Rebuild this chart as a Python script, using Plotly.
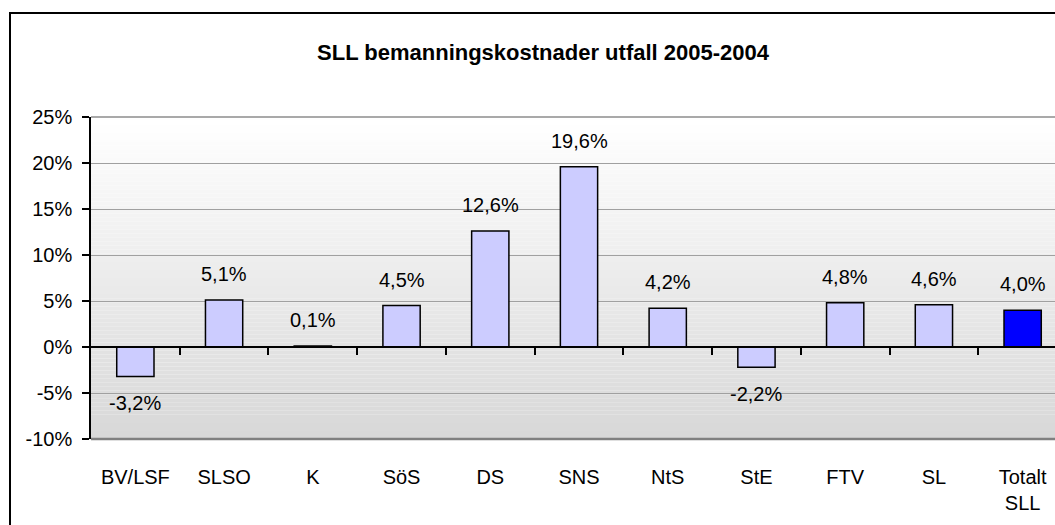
import plotly.graph_objects as go

categories = ["BV/LSF", "SLSO", "K", "SöS", "DS", "SNS", "NtS", "StE", "FTV", "SL", "Totalt<br>SLL"]
values = [-3.2, 5.1, 0.1, 4.5, 12.6, 19.6, 4.2, -2.2, 4.8, 4.6, 4.0]
labels = ["-3,2%", "5,1%", "0,1%", "4,5%", "12,6%", "19,6%", "4,2%", "-2,2%", "4,8%", "4,6%", "4,0%"]
y_ticks = [-10, -5, 0, 5, 10, 15, 20, 25]
y_ticktext = ["-10%", "-5%", "0%", "5%", "10%", "15%", "20%", "25%"]
title_text = "SLL bemanningskostnader utfall 2005-2004"

FONT = "Liberation Sans, Arial, sans-serif"
bar_colors = ["#CCCCFF"] * (len(categories) - 1) + ["#0000FF"]

fig = go.Figure()
fig.add_trace(go.Bar(
    x=categories, y=values, marker=dict(color=bar_colors, line=dict(color="black", width=1.5)),
    width=0.42, showlegend=False, hoverinfo="skip",
))

# data labels
for c, v, t in zip(categories, values, labels):
    fig.add_annotation(x=c, y=v, text=t, showarrow=False,
                       yanchor="bottom" if v >= 0 else "top",
                       yshift=13 if v >= 0 else -14,
                       font=dict(family=FONT, size=20, color="black"))

# gradient plot background
n = 80
for i in range(n):
    f = i / (n - 1)
    g = int(round(255 - (255 - 216) * f))
    fig.add_shape(type="rect", xref="x domain", yref="y domain",
                  x0=0, x1=1, y0=1 - (i + 1) / n, y1=1 - i / n,
                  fillcolor=f"rgb({g},{g},{g})", line=dict(width=0), layer="below")

# plot area border top/bottom
fig.add_shape(type="line", xref="x domain", yref="y domain", x0=0, x1=1, y0=1, y1=1,
              line=dict(color="#8c8c8c", width=1.5))
fig.add_shape(type="line", xref="x domain", yref="y domain", x0=0, x1=1, y0=0, y1=0,
              line=dict(color="#808080", width=2.5))

# outer chart frame (cropped on right/bottom)
fig.add_shape(type="rect", xref="paper", yref="paper",
              x0=(10 - 91) / 964, x1=1.2, y0=-0.6, y1=(439 - 13) / 322,
              line=dict(color="black", width=2), fillcolor="rgba(0,0,0,0)")

n_cat = len(categories)
x_range = [-0.5, n_cat - 0.5 - 12 / 88.7]

fig.update_layout(
    width=1055, height=525,
    margin=dict(l=91, r=0, t=117, b=86, autoexpand=False),
    paper_bgcolor="white", plot_bgcolor="rgba(0,0,0,0)",
    title=dict(text=f"<b>{title_text}</b>", x=543 / 1055, xref="container", xanchor="center",
               y=1 - 52 / 525, yref="container", yanchor="middle",
               font=dict(family=FONT, size=22, color="black")),
    font=dict(family=FONT, size=20, color="black"),
    xaxis=dict(type="category", range=x_range, showgrid=False, showline=False, ticks="",
               tickfont=dict(family=FONT, size=20, color="black"), ticklabelstandoff=24,
               zeroline=False, automargin=False),
    xaxis2=dict(overlaying="x", anchor="free", position=10 / 35, range=x_range,
                showline=True, linecolor="black", linewidth=1.5,
                tickmode="array", tickvals=[i + 0.5 for i in range(n_cat - 1)],
                ticks="outside", ticklen=7, tickwidth=1.5, tickcolor="black",
                showticklabels=False, showgrid=False, zeroline=False, automargin=False),
    yaxis=dict(range=[-10, 25], tickmode="array", tickvals=y_ticks, ticktext=y_ticktext,
               showgrid=True, gridcolor="#a0a0a0", gridwidth=1,
               showline=True, linecolor="black", linewidth=1.5,
               ticks="outside", ticklen=7, tickwidth=1.5, tickcolor="black",
               ticklabelstandoff=6, automargin=False,
               tickfont=dict(family=FONT, size=20, color="black"), zeroline=False),
)
# invisible trace to activate xaxis2
fig.add_trace(go.Scatter(x=[0], y=[0], xaxis="x2", mode="markers",
                         marker=dict(opacity=0), showlegend=False, hoverinfo="skip"))

fig.write_html("out.html", config={"displayModeBar": False},
               post_script="document.body.style.margin='0px';")
